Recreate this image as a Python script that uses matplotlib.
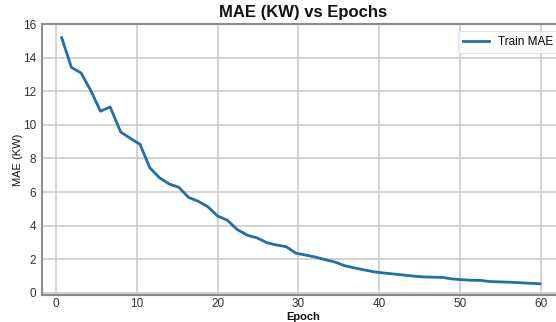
import matplotlib
matplotlib.use("Agg")
import matplotlib.pyplot as plt

# Data
epochs = [0.7, 1.9, 3.1, 4.3, 5.5, 6.7, 8.0, 9.2, 10.4, 11.6,
          12.8, 14.0, 15.2, 16.4, 17.6, 18.8, 20.0, 21.2, 22.4, 23.7,
          24.9, 26.1, 27.3, 28.5, 29.7, 30.9, 32.1, 33.3, 34.5, 35.7,
          36.9, 38.1, 39.4, 40.6, 41.8, 43.0, 44.2, 45.4, 46.6, 47.8,
          49.0, 50.2, 51.4, 52.6, 53.8, 55.1, 56.3, 57.5, 58.7, 59.9]
train_mae = [15.2, 13.43, 13.1, 12.05, 10.82, 11.07, 9.58, 9.2, 8.84, 7.45,
             6.85, 6.48, 6.28, 5.68, 5.45, 5.12, 4.57, 4.32, 3.77, 3.42,
             3.26, 2.98, 2.84, 2.74, 2.35, 2.24, 2.12, 1.97, 1.83, 1.61,
             1.48, 1.36, 1.24, 1.17, 1.11, 1.05, 0.99, 0.94, 0.92, 0.91,
             0.82, 0.77, 0.74, 0.73, 0.66, 0.64, 0.62, 0.59, 0.56, 0.53]
x_ticks = [0, 10, 20, 30, 40, 50, 60]
y_ticks = [0, 2, 4, 6, 8, 10, 12, 14, 16]

plt.rcParams['font.family'] = ['Liberation Sans', 'DejaVu Sans']

W, H = 556, 322
fig = plt.figure(figsize=(W / 100, H / 100), dpi=100)
fig.patch.set_facecolor('white')

# axes in pixel terms: left 41.5, right 565 (beyond figure, cropped), top 24.3, bottom 295
left, right, top, bottom = 41.5, 565.0, 24.3, 295.0
ax = fig.add_axes([left / W, (H - bottom) / H, (right - left) / W, (bottom - top) / H])

ax.plot(epochs, train_mae, color='#1f6fa8', linewidth=2.0, label='Train MAE')

ax.set_xlim(-1.8, 63.0)
ax.set_ylim(-0.14, 16)
ax.set_xticks(x_ticks)
ax.set_yticks(y_ticks)

ax.grid(True, color='#c8c8c8', linewidth=1.1)
ax.set_axisbelow(True)
for s in ax.spines.values():
    s.set_color('#8c8c8c')
    s.set_linewidth(1.5)

ax.tick_params(axis='y', length=0, pad=4, labelsize=8.5, labelcolor='#333333')
ax.tick_params(axis='x', length=0, pad=2.5, labelsize=8.5, labelcolor='#333333')

ax.set_title('MAE (KW) vs Epochs', fontsize=12, fontweight='bold', color='#111111', pad=5)
ax.set_xlabel('Epoch', fontsize=8, fontweight='bold', color='#111111')
ax.set_ylabel('MAE (KW)', fontsize=8, color='#111111')
ax.xaxis.label.set_va('center')
ax.xaxis.set_label_coords((303 - left) / (right - left), -(316.5 - bottom) / (bottom - top))
ax.yaxis.label.set_va('center')
ax.yaxis.set_label_coords(-(left - 18) / (right - left), 0.5)

leg = ax.legend(loc='upper right', fontsize=8.5, frameon=True, fancybox=True,
                handlelength=2.2, borderaxespad=0.6)
leg.get_frame().set_edgecolor('#dddddd')
leg.get_frame().set_linewidth(0.8)

fig.savefig('out.png', dpi=100)
